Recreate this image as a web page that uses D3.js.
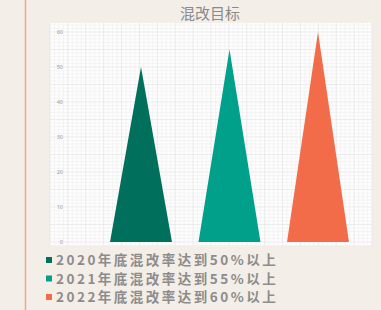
<!DOCTYPE html>
<html>
<head>
<meta charset="utf-8">
<script src="https://cdn.jsdelivr.net/npm/d3@7"></script>
<style>
  body { margin: 0; background: #f3eee7; }
  svg { display: block; }
</style>
</head>
<body>
<div id="chart"></div>
<script>
// data
var years = ["2020", "2021", "2022"];
var targets = [50, 55, 60];
var colors = ["#006f5c", "#00a08b", "#f26c4a"];
var legendLabels = ["2020年底混改率达到50%以上", "2021年底混改率达到55%以上", "2022年底混改率达到60%以上"];
var yTicks = [0, 10, 20, 30, 40, 50, 60];

var svgWidth = 381;
var svgHeight = 310;

var svg = d3.select("#chart")
  .append("svg")
  .attr("width", svgWidth)
  .attr("height", svgHeight);

// background + the thin orange rule on the left
svg.append("rect")
  .attr("width", svgWidth)
  .attr("height", svgHeight)
  .attr("fill", "#f3eee7");

svg.append("line")
  .attr("x1", 25.5).attr("x2", 25.5)
  .attr("y1", 0).attr("y2", svgHeight)
  .attr("stroke", "#f4a988")
  .attr("stroke-width", 1.5);

var plot = { left: 50, right: 372 };

var yScale = d3.scaleLinear()
  .domain([0, 60])
  .range([242, 32]);

var xScale = d3.scaleBand()
  .domain(years)
  .range([96.75, 362.25])
  .paddingInner(0.3)
  .paddingOuter(0.15);

// plot area
svg.append("rect")
  .attr("x", plot.left)
  .attr("y", yScale(62.6))
  .attr("width", plot.right - plot.left)
  .attr("height", yScale(-1) - yScale(62.6))
  .attr("fill", "#fdfdfd");

// fine grid
var gridGroup = svg.append("g");
var xGrid = d3.scaleLinear().domain([0, 72]).range([plot.left, plot.right]);

gridGroup.selectAll(".hgrid")
  .data(d3.range(-1, 63, 1))
  .enter()
  .append("line")
  .attr("x1", plot.left)
  .attr("x2", plot.right)
  .attr("y1", function(d) { return yScale(d); })
  .attr("y2", function(d) { return yScale(d); })
  .attr("stroke", function(d) { return d % 5 === 0 ? "#e4e4e4" : "#f0f0f0"; })
  .attr("stroke-width", 0.7);

gridGroup.selectAll(".vgrid")
  .data(d3.range(0, 73, 1))
  .enter()
  .append("line")
  .attr("x1", function(d) { return xGrid(d); })
  .attr("x2", function(d) { return xGrid(d); })
  .attr("y1", yScale(62.6))
  .attr("y2", yScale(-1))
  .attr("stroke", function(d) { return d % 4 === 0 ? "#e4e4e4" : "#f0f0f0"; })
  .attr("stroke-width", 0.7);

// y tick labels (sit inside the plot)
svg.selectAll(".ylab")
  .data(yTicks)
  .enter()
  .append("text")
  .attr("x", 63)
  .attr("y", function(d) { return yScale(d) + 2; })
  .attr("text-anchor", "end")
  .attr("font-family", "Noto Sans, sans-serif")
  .attr("font-size", 5.5)
  .attr("fill", "#9a9a9a")
  .text(function(d) { return d; });

// triangles
svg.selectAll(".tri")
  .data(years)
  .enter()
  .append("path")
  .attr("fill", function(d, i) { return colors[i]; })
  .attr("d", function(d, i) {
    var x0 = xScale(d);
    var x1 = x0 + xScale.bandwidth();
    var xm = x0 + xScale.bandwidth() / 2;
    return "M" + x0 + "," + yScale(0) + "L" + xm + "," + yScale(targets[i]) + "L" + x1 + "," + yScale(0) + "Z";
  });

// title
svg.append("text")
  .attr("x", 210)
  .attr("y", 19)
  .attr("text-anchor", "middle")
  .attr("font-family", "Noto Sans CJK SC, sans-serif")
  .attr("font-size", 15)
  .attr("fill", "#8a8a8a")
  .text("混改目标");

// legend
var legend = svg.selectAll(".legend")
  .data(legendLabels)
  .enter()
  .append("g")
  .attr("transform", function(d, i) { return "translate(46," + (265 + i * 18.5) + ")"; });

legend.append("rect")
  .attr("x", 0)
  .attr("y", -8)
  .attr("width", 6)
  .attr("height", 6)
  .attr("fill", function(d, i) { return colors[i]; });

legend.append("text")
  .attr("x", 10)
  .attr("y", 0)
  .attr("font-family", "Noto Sans CJK SC, sans-serif")
  .attr("font-size", 13.5)
  .attr("font-weight", "bold")
  .attr("letter-spacing", 2.5)
  .attr("fill", "#8c8c8c")
  .text(function(d) { return d; });
</script>
</body>
</html>
